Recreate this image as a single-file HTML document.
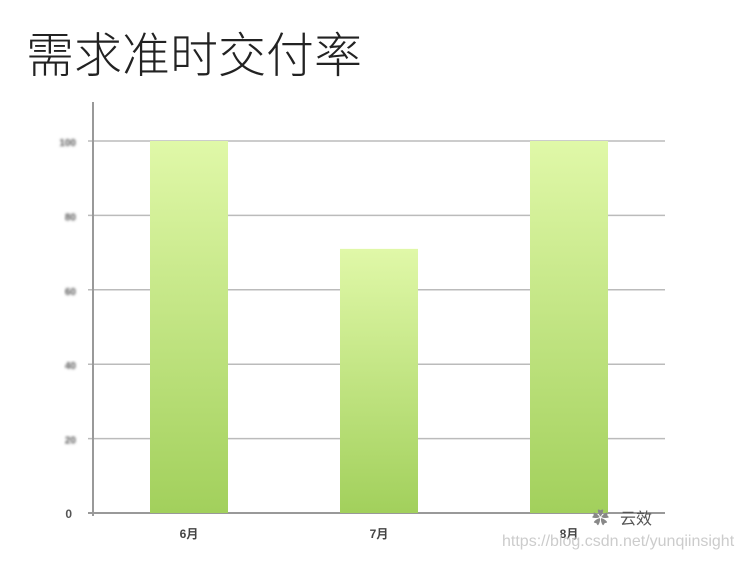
<!DOCTYPE html>
<html><head><meta charset="utf-8"><style>
body{margin:0;background:#fff;width:743px;height:559px;overflow:hidden;font-family:"Liberation Sans","Noto Sans CJK SC",sans-serif}
</style></head><body>
<svg width="743" height="559" xmlns="http://www.w3.org/2000/svg">
<defs><linearGradient id="g" x1="0" y1="0" x2="0" y2="1"><stop offset="0" stop-color="#e0f8a8"/><stop offset="1" stop-color="#a2d05c"/></linearGradient>
<filter id="b"><feGaussianBlur stdDeviation="1.3"/></filter></defs>
<text x="26" y="72" font-size="48" font-weight="300" fill="#222" font-family="Noto Sans CJK SC, sans-serif">需求准时交付率</text>
<g id="grid"></g><g id="bars"></g><g id="labels"></g>
<line x1="93" y1="102" x2="93" y2="516" stroke="#999" stroke-width="2"/>
<text x="592" y="524" font-size="17" fill="#888">✿</text>
<text x="620" y="524" font-size="16" fill="#555">云效</text>
<text x="502" y="546" font-size="16" fill="#ccc">https://blog.csdn.net/yunqiinsight</text>
</svg>
<script>
const categories=["6月","7月","8月"];
const values=[100,71,100];
const ticks=[0,20,40,60,80,100];
const ns="http://www.w3.org/2000/svg";
const y0=513,y1=141;
function y(v){return y0-(v/100)*(y0-y1);}
function x(i){return 150+i*190;}
function mk(t,a,p){const e=document.createElementNS(ns,t);for(const k in a)e.setAttribute(k,a[k]);document.getElementById(p).appendChild(e);return e;}
ticks.forEach(t=>{
const l=mk('line',{x1:88,x2:665,y1:y(t),y2:y(t),stroke:t===0?'#999':'#bbb','stroke-width':t===0?2:1.5},'grid');


const tx=mk('text',{x:t===0?72:76,y:y(t)+5,'font-size':t===0?12:10,'text-anchor':'end',fill:'#555','font-weight':'bold',filter:t===0?'':'url(#b)'},'labels');
tx.textContent=t;


});
categories.forEach((c,i)=>{
const r=mk('rect',{x:x(i),y:y(values[i]),width:78,height:y0-y(values[i]),fill:'url(#g)'},'bars');


const t=mk('text',{x:x(i)+39,y:538,'font-size':12,'text-anchor':'middle',fill:'#444','font-weight':'bold'},'labels');
t.textContent=c;


});
</script>
</body></html>
